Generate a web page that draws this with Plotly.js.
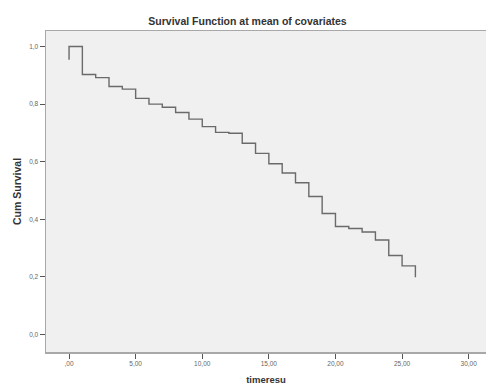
<!DOCTYPE html>
<html>
<head>
<meta charset="utf-8">
<script src="https://cdn.plot.ly/plotly-3.0.1.min.js"></script>
<style>html,body{margin:0;padding:0;background:#fff;}#chart{width:486px;height:385px;}</style>
</head>
<body>
<div id="chart"></div>
<script>
// Survival step function (time, cumulative survival)
var timeValues = [0, 0, 1, 2, 3, 4, 5, 6, 7, 8, 9, 10, 11, 12, 13, 14, 15, 16, 17, 18, 19, 20, 21, 22, 23, 24, 25, 26];
var survivalValues = [0.954, 1.0, 0.903, 0.892, 0.861, 0.852, 0.820, 0.800, 0.789, 0.771, 0.748, 0.722, 0.702, 0.699, 0.664, 0.629, 0.593, 0.561, 0.527, 0.479, 0.420, 0.375, 0.368, 0.356, 0.328, 0.274, 0.238, 0.199];
var xTickValues = [0, 5, 10, 15, 20, 25, 30];
var xTickLabels = [",00", "5,00", "10,00", "15,00", "20,00", "25,00", "30,00"];
var yTickValues = [0, 0.2, 0.4, 0.6, 0.8, 1.0];
var yTickLabels = ["0,0", "0,2", "0,4", "0,6", "0,8", "1,0"];

var trace = {
  x: timeValues,
  y: survivalValues,
  type: 'scatter',
  mode: 'lines',
  line: {shape: 'hv', color: '#6a6a6a', width: 1.4},
  hoverinfo: 'x+y'
};

var tickFont = {family: 'Liberation Sans, Arial, sans-serif', size: 6.5, color: '#666'};
var layout = {
  width: 486, height: 385,
  margin: {l: 46, r: 0, t: 31, b: 33},
  paper_bgcolor: '#ffffff',
  plot_bgcolor: '#f0f0f0',
  showlegend: false,
  title: {
    text: 'Survival Function at mean of covariates',
    font: {family: 'Liberation Sans, Arial, sans-serif', size: 10.5, color: '#333', weight: 'bold'},
    x: 247.5/486, xanchor: 'center', xref: 'container',
    y: 1 - 21/385, yanchor: 'middle', yref: 'container'
  },
  xaxis: {
    range: [-1.73, 31.3],
    tickvals: xTickValues, ticktext: xTickLabels,
    ticks: 'outside', ticklen: 5, tickwidth: 1, tickcolor: '#555',
    tickfont: tickFont,
    showgrid: false, zeroline: false,
    showline: true, linecolor: '#a8a8a8', linewidth: 1.5, mirror: true,
    title: {text: 'timeresu', font: {family: 'Liberation Sans, Arial, sans-serif', size: 9.5, color: '#333', weight: 'bold'}, standoff: 11}
  },
  yaxis: {
    range: [-0.061, 1.054],
    tickvals: yTickValues, ticktext: yTickLabels,
    ticks: 'outside', ticklen: 5, tickwidth: 1, tickcolor: '#555',
    tickfont: tickFont,
    showgrid: false, zeroline: false,
    showline: true, linecolor: '#a8a8a8', linewidth: 1.5,
    title: {text: 'Cum Survival', font: {family: 'Liberation Sans, Arial, sans-serif', size: 10.5, color: '#333', weight: 'bold'}, standoff: 5}
  }
};

Plotly.newPlot('chart', [trace], layout, {displayModeBar: false, staticPlot: true});
</script>
</body>
</html>
